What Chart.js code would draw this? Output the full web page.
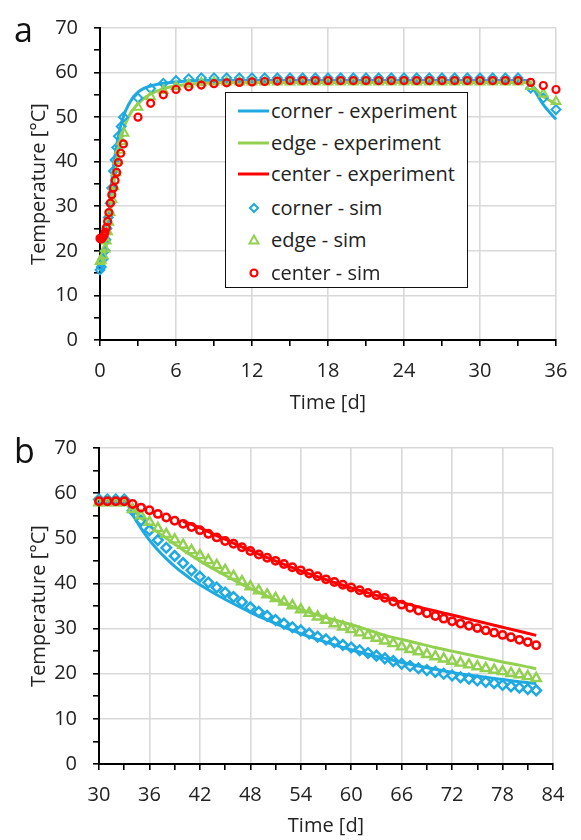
<!DOCTYPE html>
<html><head><meta charset="utf-8">
<script src="https://cdn.jsdelivr.net/npm/chart.js@4.4.1/dist/chart.umd.min.js"></script>
<style>
html,body{margin:0;padding:0;background:#fff;}
#wrap{position:relative;width:581px;height:840px;overflow:hidden;font-family:"Open Sans",sans-serif;color:#222;}
.cw{position:absolute;left:0;width:581px;height:420px;}
.panel{position:absolute;font-size:34px;line-height:34px;color:#111;}
#legend{position:absolute;left:225px;top:92px;width:241px;height:194px;border:1.8px solid #111;background:#fff;font-size:20px;}
.row{position:absolute;left:0;height:32px;width:240px;}
.row svg{position:absolute;left:12px;top:6px;}
.row span{position:absolute;left:45px;top:0;line-height:32px;white-space:nowrap;}
</style>
</head><body>
<div id="wrap">
  <div class="cw" style="top:0"><canvas id="ca" width="581" height="420"></canvas></div>
  <div class="cw" style="top:420px"><canvas id="cb" width="581" height="420"></canvas></div>
  <div class="panel" style="left:14px;top:12px">a</div>
  <div class="panel" style="left:14px;top:433px">b</div>
  <div id="legend">
    <div class="row" style="top:2px"><svg width="32" height="20"><line x1="0" y1="10" x2="31" y2="10" stroke="#1FA9E1" stroke-width="3"/></svg><span>corner - experiment</span></div>
    <div class="row" style="top:34px"><svg width="32" height="20"><line x1="0" y1="10" x2="31" y2="10" stroke="#92D050" stroke-width="3"/></svg><span>edge - experiment</span></div>
    <div class="row" style="top:65px"><svg width="32" height="20"><line x1="0" y1="10" x2="31" y2="10" stroke="#FF0000" stroke-width="3"/></svg><span>center - experiment</span></div>
    <div class="row" style="top:99px"><svg width="32" height="20"><polygon points="16,6 20,10 16,14 12,10" fill="none" stroke="#1FA9E1" stroke-width="2"/></svg><span>corner - sim</span></div>
    <div class="row" style="top:131px"><svg width="32" height="20"><polygon points="16,5.5 20.5,13.5 11.5,13.5" fill="none" stroke="#92D050" stroke-width="2"/></svg><span>edge - sim</span></div>
    <div class="row" style="top:164px"><svg width="32" height="20"><circle cx="16" cy="10" r="3.5" fill="none" stroke="#FF0000" stroke-width="2.2"/></svg><span>center - sim</span></div>
  </div>
</div>
<script>
// ---------- Panel a (heating) ----------
const cornerExpA_t = [0,0.25,0.5,0.75,1,1.25,1.5,1.75,2,2.5,3,3.5,4,5,6,8,12,18,24,30,33.7,34.3,35,36];
const cornerExpA_T = [15.4,17.0,22.0,30.0,37.5,42.5,46.5,49.2,51.3,54.0,55.6,56.5,57.0,57.6,57.9,58.2,58.2,58.2,58.2,58.2,58.2,56.0,52.8,49.5];
const edgeExpA_t = [0,0.25,0.5,0.75,1,1.25,1.5,1.75,2,2.5,3,3.5,4,5,6,7,8,10,12,18,24,30,33.7,34.3,35,36];
const edgeExpA_T = [17.5,18.5,21.5,27.0,33.0,38.5,43.0,46.3,48.5,51.3,53.0,54.3,55.2,56.4,57.0,57.4,57.6,57.8,57.8,57.8,57.8,57.8,57.8,56.5,54.6,53.0];
const centerExpA_t = [];
const centerExpA_T = [];
const cornerSimA_t = [0,0.1,0.25,0.4,0.47,0.55,0.66,0.8,0.93,1.06,1.19,1.32,1.45,1.67,1.85,3,4,5,6,7,8,9,10,11,12,13,14,15,16,17,18,19,20,21,22,23,24,25,26,27,28,29,30,31,32,33,34,35,36];
const cornerSimA_T = [15.7,16.4,18.2,20.0,22.5,25.0,27.5,30.7,34.1,37.9,40.4,43.2,45.7,47.9,50.0,54.3,56.4,57.6,58.2,58.6,58.8,58.8,58.8,58.8,58.8,58.8,58.8,58.8,58.8,58.8,58.8,58.8,58.8,58.8,58.8,58.8,58.8,58.8,58.8,58.8,58.8,58.8,58.8,58.8,58.8,58.8,56.5,54.3,51.7];
const edgeSimA_t = [0,0.1,0.25,0.4,0.5,0.6,0.7,0.8,0.95,1.1,1.25,1.4,1.55,1.7,1.9,3,4,5,6,7,8,9,10,11,12,13,14,15,16,17,18,19,20,21,22,23,24,25,26,27,28,29,30,31,32,33,34,35,36];
const edgeSimA_T = [17.6,17.9,18.9,20.4,22.2,24.3,26.4,28.6,31.5,34.5,37.5,40.2,42.6,44.5,46.4,52.2,54.6,56.0,56.9,57.4,57.7,57.9,57.9,57.9,57.9,57.9,57.9,57.9,57.9,57.9,57.9,57.9,57.9,57.9,57.9,57.9,57.9,57.9,57.9,57.9,57.9,57.9,57.9,57.9,57.9,57.9,56.9,55.2,53.5];
const centerSimA_t = [0,0.05,0.1,0.15,0.2,0.3,0.4,0.5,0.6,0.7,0.82,0.93,1.06,1.19,1.32,1.45,1.64,1.85,3,4,5,6,7,8,9,10,11,12,13,14,15,16,17,18,19,20,21,22,23,24,25,26,27,28,29,30,31,32,33,34,35,36];
const centerSimA_T = [22.8,22.7,22.7,22.8,23.0,23.4,24.2,25.2,26.6,28.6,30.7,32.6,34.1,35.8,37.6,39.8,41.9,44.0,50.0,53.1,55.0,56.2,56.8,57.2,57.5,57.7,57.8,57.9,58.0,58.1,58.2,58.2,58.2,58.2,58.2,58.2,58.2,58.2,58.2,58.2,58.2,58.2,58.2,58.2,58.2,58.2,58.2,58.2,58.2,57.8,57.1,56.2];

// ---------- Panel b (cooling) ----------
const cornerExpB_t = [30,33,34,35,36,37,38,39,40,41,42,44,46,48,50,52,54,56,58,60,62,64,66,68,70,72,74,76,78,80,82];
const cornerExpB_T = [58.4,58.4,55.2,52.2,49.6,47.4,45.5,43.8,42.3,40.9,39.7,37.5,35.5,33.6,31.9,30.3,28.9,27.6,26.4,25.3,24.3,23.4,22.5,21.7,21.0,20.3,19.7,19.2,18.7,18.2,17.8];
const edgeExpB_t = [30,33,34,35,36,37,38,39,40,42,44,46,48,50,52,54,56,58,60,62,64,66,68,70,72,74,76,78,80,82];
const edgeExpB_T = [57.9,57.9,56.5,54.5,52.8,51.3,50.0,48.7,47.4,45.0,42.8,40.8,38.9,37.2,35.6,34.2,33.0,31.9,30.9,29.7,28.5,27.6,26.7,25.8,25.0,24.2,23.4,22.6,21.9,21.1];
const centerExpB_t = [40,41,42,43,44,45,46,48,50,52,54,56,58,60,62,64,66,68,70,72,74,76,78,80,82];
const centerExpB_T = [53.7,53.1,52.3,51.5,50.6,49.8,48.9,47.3,45.7,44.2,42.8,41.5,40.2,39.0,37.9,36.8,35.8,34.8,33.9,33.0,32.1,31.2,30.3,29.4,28.5];
const simB_t = [30,31,32,33,34,35,36,37,38,39,40,41,42,43,44,45,46,47,48,49,50,51,52,53,54,55,56,57,58,59,60,61,62,63,64,65,66,67,68,69,70,71,72,73,74,75,76,77,78,79,80,81,82];
const cornerSimB_T = [58.6,58.6,58.6,58.6,56.1,53.9,51.8,49.6,47.9,46.1,44.5,42.9,41.5,40.2,39.1,38.0,37.0,35.9,34.7,33.7,32.8,31.9,31.1,30.3,29.6,28.9,28.2,27.6,27.0,26.4,25.8,25.2,24.6,24.0,23.4,22.8,22.2,21.7,21.2,20.8,20.4,20.0,19.6,19.2,18.9,18.5,18.2,17.9,17.5,17.2,16.9,16.6,16.3];
const edgeSimB_T = [57.9,57.9,57.9,57.9,56.4,55.0,53.6,52.2,50.9,49.7,48.5,47.3,46.2,45.1,44.0,42.9,41.6,40.4,39.3,38.4,37.5,36.7,35.9,35.1,34.2,33.4,32.6,31.9,31.1,30.4,29.8,29.1,28.5,27.9,27.3,26.7,26.0,25.4,24.9,24.3,23.8,23.3,22.8,22.4,22.0,21.6,21.2,20.8,20.5,20.1,19.8,19.4,19.0];
const centerSimB_T = [58.2,58.2,58.2,58.2,57.6,56.8,56.2,55.4,54.6,53.9,53.2,52.5,51.8,51.0,50.2,49.4,48.8,48.0,47.2,46.4,45.7,45.0,44.3,43.6,42.9,42.2,41.6,40.9,40.3,39.7,39.1,38.5,37.9,37.4,36.8,36.0,35.3,34.6,34.0,33.4,32.8,32.2,31.6,31.1,30.6,30.1,29.6,29.1,28.6,28.1,27.5,27.0,26.3];

// ---------- Axis ticks ----------
const yMin = 0, yMax = 70, yStep = 5, yLabelEvery = 10;
const xA = {min:0, max:36, step:3, labelEvery:6};
const xB = {min:30, max:84, step:3, labelEvery:6};

const BLUE = '#1FA9E1', GREEN = '#92D050', RED = '#FF0000';
const FONT = {family:'"Open Sans", sans-serif', size:20};
const TXT = '#222';

function pts(t, T){ return t.map((v,i)=>({x:v, y:T[i]})); }
function lineDs(t,T,c,ord){ return {data:pts(t,T), showLine:true, borderColor:c, borderWidth:3, pointRadius:0, cubicInterpolationMode:'monotone', clip:false, order:ord}; }
function simDs(t,T,c,style,r,bw,ord){ return {data:pts(t,T), showLine:false, borderColor:c, backgroundColor:'rgba(0,0,0,0)', pointBorderColor:c, pointBackgroundColor:'rgba(0,0,0,0)', pointStyle:style, pointRadius:r, pointBorderWidth:bw, clip:false, order:ord}; }

function gridColor(every, base){ return ctx => (ctx.tick && Math.abs(Math.round(ctx.tick.value - base)) % every === 0) ? '#D9D9D9' : 'rgba(0,0,0,0)'; }

function makeChart(id, datasets, xr, pad, yW, xH, xTitlePad){
  new Chart(document.getElementById(id), {
    type:'scatter',
    data:{datasets},
    options:{
      responsive:false, animation:false, events:[],
      layout:{padding:pad},
      plugins:{legend:{display:false}, tooltip:{enabled:false}},
      scales:{
        x:{type:'linear', min:xr.min, max:xr.max,
           afterFit:s=>{s.height=xH;},
           ticks:{stepSize:xr.step, autoSkip:false, maxRotation:0, padding:13, color:TXT, font:FONT,
                  callback:v=>((v - xr.min) % xr.labelEvery === 0 ? v : '')},
           grid:{color:gridColor(xr.labelEvery, xr.min), lineWidth:1.6, tickColor:'#000', tickLength:6, tickWidth:1.6},
           border:{color:'#000', width:2},
           title:{display:true, text:'Time [d]', color:TXT, font:FONT, padding:{top:0,bottom:xTitlePad}}},
        y:{type:'linear', min:yMin, max:yMax,
           afterFit:s=>{s.width=yW;},
           ticks:{stepSize:yStep, autoSkip:false, padding:16, color:TXT, font:FONT,
                  callback:v=>(v % yLabelEvery === 0 ? v : '')},
           grid:{color:gridColor(yLabelEvery, 0), lineWidth:1.6, tickColor:'#000', tickLength:6, tickWidth:1.6},
           border:{color:'#000', width:2},
           title:{display:true, text:'Temperature [°C]', color:TXT, font:FONT, padding:{top:27,bottom:0}}}
      }
    }
  });
}

makeChart('ca', [
  lineDs(cornerExpA_t, cornerExpA_T, BLUE, 6),
  lineDs(edgeExpA_t, edgeExpA_T, GREEN, 5),
  lineDs(centerExpA_t, centerExpA_T, RED, 4),
  simDs(cornerSimA_t, cornerSimA_T, BLUE, 'rectRot', 4.4, 2, 3),
  simDs(edgeSimA_t, edgeSimA_T, GREEN, 'triangle', 5, 2, 2),
  simDs(centerSimA_t, centerSimA_T, RED, 'circle', 3.5, 2.2, 1)
], xA, {left:0, top:14, right:25, bottom:0}, 100, 80, 5);

makeChart('cb', [
  lineDs(cornerExpB_t, cornerExpB_T, BLUE, 6),
  lineDs(edgeExpB_t, edgeExpB_T, GREEN, 5),
  lineDs(centerExpB_t, centerExpB_T, RED, 4),
  simDs(simB_t, cornerSimB_T, BLUE, 'rectRot', 4.8, 2.5, 3),
  simDs(simB_t, edgeSimB_T, GREEN, 'triangle', 5.4, 2.4, 2),
  simDs(simB_t, centerSimB_T, RED, 'circle', 3.7, 2.5, 1)
], xB, {left:0, top:19, right:28, bottom:0}, 99, 76, 2);
</script>
</body></html>
